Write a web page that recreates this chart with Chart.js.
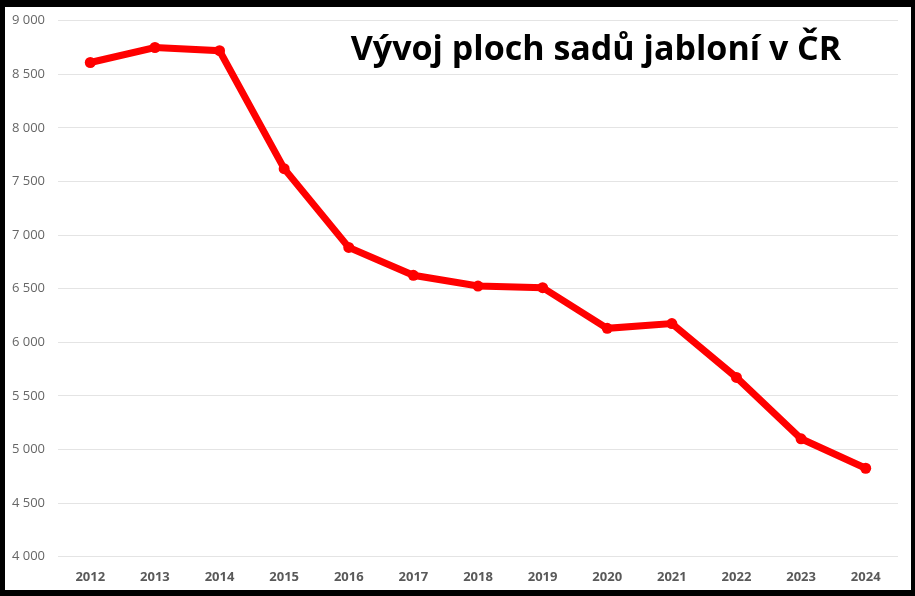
<!DOCTYPE html>
<html>
<head>
<meta charset="utf-8">
<script src="https://cdn.jsdelivr.net/npm/chart.js@4"></script>
<style>
  html, body { margin: 0; padding: 0; background: #000; }
  #wrap { position: absolute; left: 5px; top: 7px; width: 906px; height: 583px; background: #fff; }
</style>
</head>
<body>
<div id="wrap"><canvas id="chart"></canvas></div>
<script>
// data
const years = ['2012', '2013', '2014', '2015', '2016', '2017', '2018', '2019', '2020', '2021', '2022', '2023', '2024'];
const area = [8610, 8750, 8720, 7620, 6885, 6625, 6525, 6510, 6130, 6175, 5672, 5100, 4825];
const chartTitle = 'Vývoj ploch sadů jabloní v ČR';

/**
 * Draws the title inside the plot area, like the text box in the original
 */
const titleBox = {
    id: 'titleBox',
    afterDraw(chart) {
        const ctx = chart.ctx;
        ctx.save();
        ctx.font = 'bold 34px "Open Sans"';
        ctx.fillStyle = '#000';
        ctx.textAlign = 'center';
        ctx.textBaseline = 'alphabetic';
        ctx.fillText(chartTitle, 591, 53);
        ctx.restore();
    }
};

const fmt = v => String(v).replace(/\B(?=(\d{3})+(?!\d))/g, ' ');

new Chart(document.getElementById('chart'), {
    type: 'line',
    data: {
        labels: years,
        datasets: [{
            data: area,
            borderColor: '#ff0000',
            backgroundColor: '#ff0000',
            borderWidth: 7,
            pointRadius: 5.5,
            pointBackgroundColor: '#ff0000',
            pointBorderWidth: 0,
            tension: 0
        }]
    },
    options: {
        responsive: true,
        maintainAspectRatio: false,
        animation: false,
        layout: { padding: { left: 0, right: 13, top: 13.7, bottom: 0 } },
        plugins: { legend: { display: false }, tooltip: { enabled: false } },
        scales: {
            x: {
                offset: true,
                grid: { display: false, drawTicks: false },
                border: { display: false },
                ticks: { color: '#595959', font: { family: '"Open Sans"', size: 13, weight: 'bold' }, padding: 12.5, maxRotation: 0 },
                afterFit(scale) { scale.height = 33.3; }
            },
            y: {
                min: 4000,
                max: 9000,
                grid: { color: '#e4e4e4', lineWidth: 1, drawTicks: false },
                border: { display: false },
                ticks: { stepSize: 500, color: '#666', font: { family: '"Open Sans"', size: 13 }, padding: 13, callback: v => fmt(v) },
                afterFit(scale) {
                    scale.width = 53;
                    scale.paddingTop = 0;
                    scale.paddingBottom = 0;
                }
            }
        }
    },
    plugins: [titleBox]
});
</script>
</body>
</html>
